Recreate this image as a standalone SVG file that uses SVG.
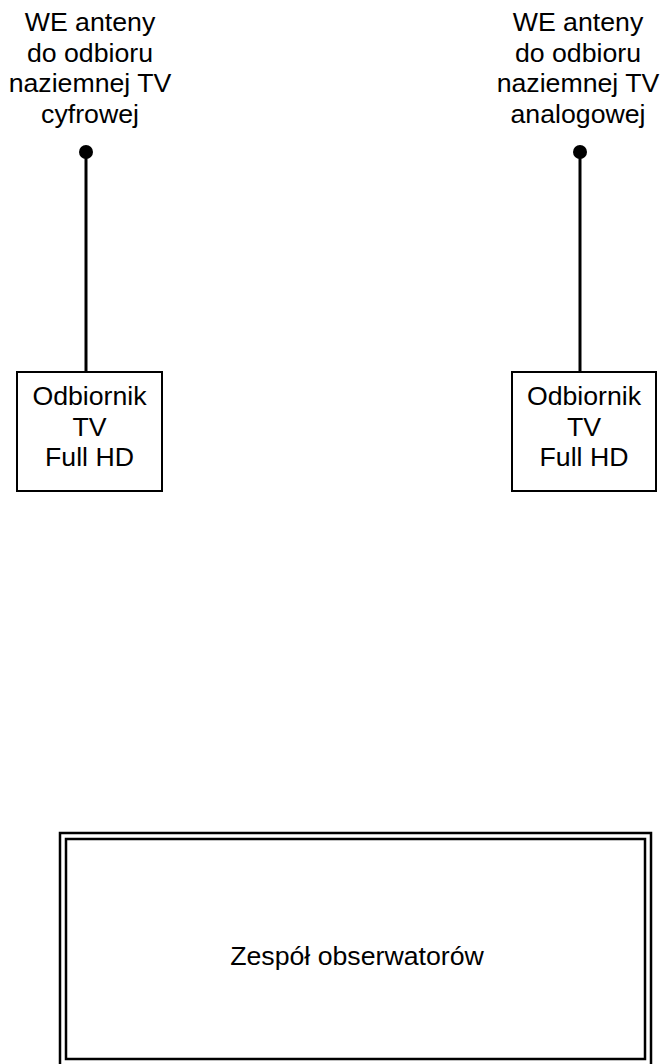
<svg xmlns="http://www.w3.org/2000/svg" width="662" height="1064" viewBox="0 0 662 1064">
<style>
text{font-family:"Liberation Sans",Arial,sans-serif;font-size:26.7px;fill:#000;text-anchor:middle}
.box{fill:#fff;stroke:#000;stroke-width:2}
.wire{stroke:#000;stroke-width:3;fill:none}
.dbl{fill:none;stroke:#000;stroke-width:2.5}
</style>
<rect width="662" height="1064" fill="#fff"/>
<g id="connectors">
<line class="wire" x1="86" y1="152" x2="86" y2="372"/>
<circle cx="86" cy="152" r="7" fill="#000"/>
<line class="wire" x1="580" y1="152" x2="580" y2="372"/>
<circle cx="580" cy="152" r="7" fill="#000"/>
</g>
<g id="antenna-digital">
<text x="90" y="31">WE anteny</text>
<text x="90" y="62">do odbioru</text>
<text x="90" y="92">naziemnej TV</text>
<text x="90" y="123">cyfrowej</text>
</g>
<g id="antenna-analog">
<text x="578" y="31">WE anteny</text>
<text x="578" y="62">do odbioru</text>
<text x="578" y="92">naziemnej TV</text>
<text x="578" y="123">analogowej</text>
</g>
<g id="tv-1">
<rect class="box" x="17" y="372" width="145" height="119"/>
<text x="89.5" y="405">Odbiornik</text>
<text x="89.5" y="436">TV</text>
<text x="89.5" y="466">Full HD</text>
</g>
<g id="tv-2">
<rect class="box" x="512" y="372" width="144" height="119"/>
<text x="584" y="405">Odbiornik</text>
<text x="584" y="436">TV</text>
<text x="584" y="466">Full HD</text>
</g>
<g id="observers">
<rect class="dbl" x="60" y="833" width="591" height="240"/>
<rect class="dbl" x="66" y="839" width="579" height="220"/>
<text x="357" y="965">Zespół obserwatorów</text>
</g>
</svg>
